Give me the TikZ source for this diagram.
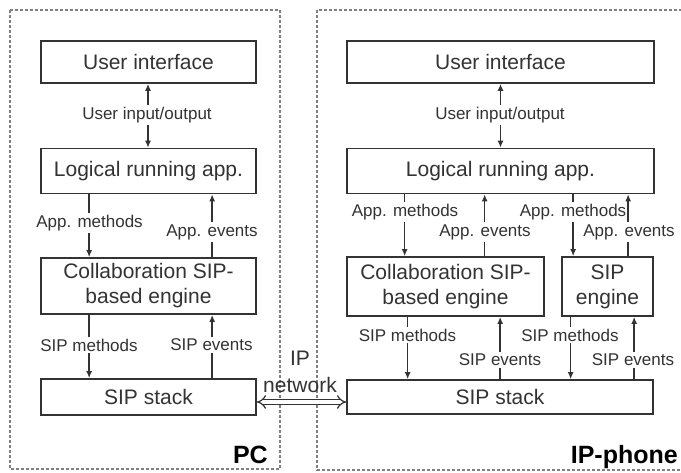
\documentclass[tikz,border=0pt]{standalone}
\usepackage{fontspec}
\setmainfont{Liberation Sans}
\usetikzlibrary{arrows.meta}
\definecolor{ink}{HTML}{333333}
\definecolor{dashgray}{HTML}{808080}
\tikzset{
  box/.style={draw=ink, line width=1.7pt, inner sep=0pt, text=ink, align=center,
    font=\fontsize{21}{25}\selectfont},
  lbl/.style={fill=white, inner xsep=1pt, inner ysep=2pt, text=ink,
    font=\fontsize{17}{20}\selectfont},
  arr/.style={draw=ink, line width=1.5pt, -{Latex[length=7pt,width=6pt]}},
  darr/.style={draw=ink, line width=1.5pt, {Latex[length=7pt,width=6pt]}-{Latex[length=7pt,width=6pt]}},
  zone/.style={draw=dashgray, line width=1.6pt, dash pattern=on 3pt off 2pt},
  zonelbl/.style={text=black, font=\fontsize{25}{28}\selectfont\bfseries, inner sep=0pt, anchor=base east},
  netarr/.style={draw=ink, line width=1.2pt, double=white, double distance=3.5pt, {Implies}-{Implies}},
}
\begin{document}
\begin{tikzpicture}[x=1pt, y=-1pt]
\useasboundingbox[fill=white] (0,0) rectangle (681,472);
% zones
\draw[zone] (10,10) rectangle (280,469);
\draw[zone] (317,10) rectangle (682,470);
\node[zonelbl] (pc) at (268,463) {PC};
\node[zonelbl] (ipp) at (678,463) {IP-phone};
% left column
\node[box, minimum width=215pt, minimum height=42pt] (lui) at (148.5,62) {User interface};
\node[box, minimum width=215pt, minimum height=45pt] (llra) at (148.5,171) {Logical running app.};
\node[box, minimum width=215pt, minimum height=56pt] (lcol) at (148.5,286) {Collaboration SIP-\\based engine};
\node[box, minimum width=215pt, minimum height=36pt] (lsip) at (148.5,397) {SIP stack};
% right column
\node[box, minimum width=307pt, minimum height=42pt] (rui) at (500.5,62) {User interface};
\node[box, minimum width=307pt, minimum height=45pt] (rlra) at (500.5,171) {Logical running app.};
\node[box, minimum width=197pt, minimum height=59pt] (rcol) at (445.5,286.5) {Collaboration SIP-\\based engine};
\node[box, minimum width=91pt, minimum height=59pt] (reng) at (607.5,286.5) {SIP\\engine};
\node[box, minimum width=306pt, minimum height=34pt] (rsip) at (500,397) {SIP stack};
% left arrows
\draw[darr] ([xshift=-0.5pt]llra.north) -- ([xshift=-0.5pt]lui.south);
\node[lbl] (luio) at (147,115) {User input/output};
\draw[arr] ([xshift=49pt]llra.south west) -- ([xshift=49pt]lcol.north west);
\node[lbl] (lam) at (89.5,223) {App. methods};
\draw[arr] ([xshift=172pt]lcol.north west) -- ([xshift=172pt]llra.south west);
\node[lbl] (lae) at (212,232) {App. events};
\draw[arr] ([xshift=49pt]lcol.south west) -- ([xshift=49pt]lsip.north west);
\node[lbl] (lsm) at (89,345) {SIP methods};
\draw[arr] ([xshift=172pt]lsip.north west) -- ([xshift=172pt]lcol.south west);
\node[lbl] (lse) at (211.5,345) {SIP events};
% right arrows
\draw[darr] (rlra.north) -- (rui.south);
\node[lbl] (ruio) at (500,115) {User input/output};
\draw[arr] ([xshift=58.5pt]rlra.south west) -- ([xshift=58.5pt]rcol.north west);
\node[lbl] (ram1) at (405,212) {App. methods};
\draw[arr] ([xshift=138.5pt]rcol.north west) -- ([xshift=138.5pt]rlra.south west);
\node[lbl] (rae1) at (485,232) {App. events};
\draw[arr] ([xshift=12pt]reng.north west |- rlra.south) -- ([xshift=12pt]reng.north west);
\node[lbl] (ram2) at (573,212) {App. methods};
\draw[arr] ([xshift=67pt]reng.north west) -- ([xshift=67pt]reng.north west |- rlra.south);
\node[lbl] (rae2) at (629,232) {App. events};
\draw[arr] ([xshift=61.5pt]rcol.south west) -- ([xshift=61.5pt]rcol.south west |- rsip.north);
\node[lbl] (rsm1) at (407.5,335) {SIP methods};
\draw[arr] ([xshift=154pt]rcol.south west |- rsip.north) -- ([xshift=154pt]rcol.south west);
\node[lbl] (rse1) at (500,360) {SIP events};
\draw[arr] ([xshift=9.5pt]reng.south west) -- ([xshift=9.5pt]reng.south west |- rsip.north);
\node[lbl] (rsm2) at (570,335) {SIP methods};
\draw[arr] ([xshift=73pt]reng.south west |- rsip.north) -- ([xshift=73pt]reng.south west);
\node[lbl] (rse2) at (633,360) {SIP events};
% IP network
\draw[netarr] ([yshift=-5pt]lsip.east) -- ([yshift=-5pt]rsip.west);
\node[text=ink, align=center, font=\fontsize{21}{27}\selectfont, inner sep=0pt] (ipnet) at (300,371.5) {IP\\network};
\end{tikzpicture}
\end{document}
